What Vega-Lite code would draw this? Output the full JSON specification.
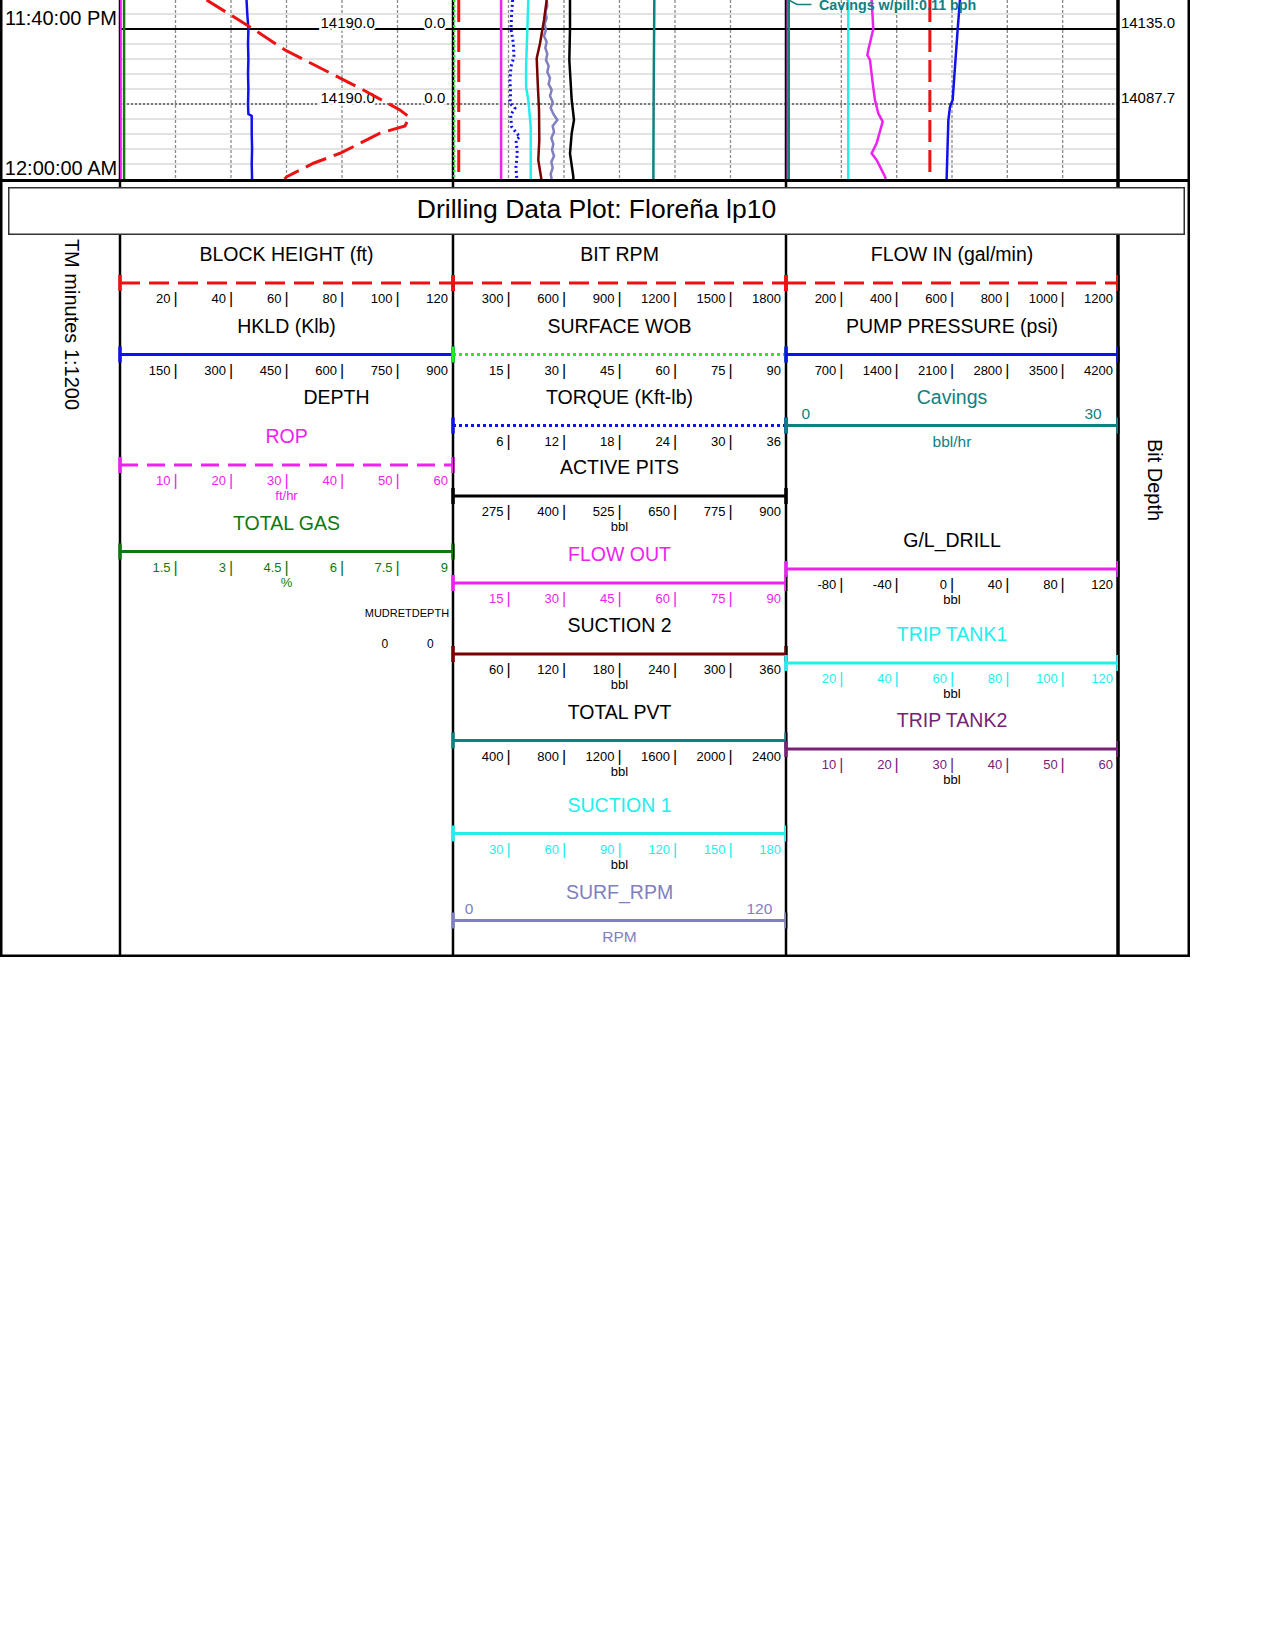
{
"$schema":"https://vega.github.io/schema/vega-lite/v6.json",
"padding":{"left":0,"top":0,"right":2,"bottom":2},
"background":"white",
"config":{"view":{"stroke":null},"font":"Liberation Sans","concat":{"spacing":0}},
"datasets":{
"timeLabels":[{"t":"2024-01-01T23:40:00","label":"11:40:00 PM"},{"t":"2024-01-02T00:00:00","label":"12:00:00 AM"}],
"divisions":[{"k":1},{"k":2},{"k":3},{"k":4},{"k":5}],
"gridTimes":[{"t":"2024-01-01T23:38:00"},{"t":"2024-01-01T23:40:00"},{"t":"2024-01-01T23:42:00"},{"t":"2024-01-01T23:44:00"},{"t":"2024-01-01T23:46:00"},{"t":"2024-01-01T23:48:00"},{"t":"2024-01-01T23:50:00"},{"t":"2024-01-01T23:52:00"},{"t":"2024-01-01T23:54:00"},{"t":"2024-01-01T23:56:00"},{"t":"2024-01-01T23:58:00"}],
"depthNotes":[{"t":"2024-01-01T23:40:00","depth":"14190.0","mudret":"0.0"},{"t":"2024-01-01T23:50:00","depth":"14190.0","mudret":"0.0"}],
"bitDepth":[{"t":"2024-01-01T23:40:00","bitDepth":"14135.0"},{"t":"2024-01-01T23:50:00","bitDepth":"14087.7"}],
"connector":[{"seq":1,"t":"2024-01-01T23:36:08","v":0.25},{"seq":2,"t":"2024-01-01T23:36:44","v":1.0},{"seq":3,"t":"2024-01-01T23:36:44","v":2.3}],
"annotation":[{"t":"2024-01-01T23:37:24","v":2.98,"label":"Cavings w/pill:0.11 bph"}],
"curves":[
{"series":"BLOCK HEIGHT","t":"2024-01-01T23:36:08","v":31.2},
{"series":"BLOCK HEIGHT","t":"2024-01-01T23:40:00","v":48.0},
{"series":"BLOCK HEIGHT","t":"2024-01-01T23:42:48","v":59.5},
{"series":"BLOCK HEIGHT","t":"2024-01-01T23:48:08","v":87.7},
{"series":"BLOCK HEIGHT","t":"2024-01-01T23:50:48","v":100.9},
{"series":"BLOCK HEIGHT","t":"2024-01-01T23:51:46","v":104.3},
{"series":"BLOCK HEIGHT","t":"2024-01-01T23:52:56","v":102.7},
{"series":"BLOCK HEIGHT","t":"2024-01-01T23:53:54","v":93.7},
{"series":"BLOCK HEIGHT","t":"2024-01-01T23:56:34","v":79.3},
{"series":"BLOCK HEIGHT","t":"2024-01-01T23:57:54","v":69.7},
{"series":"BLOCK HEIGHT","t":"2024-01-01T23:59:42","v":60.1},
{"series":"BLOCK HEIGHT","t":"2024-01-02T00:00:00","v":59.3},
{"series":"HKLD","t":"2024-01-01T23:36:08","v":342},
{"series":"HKLD","t":"2024-01-01T23:38:00","v":344},
{"series":"HKLD","t":"2024-01-01T23:40:00","v":347},
{"series":"HKLD","t":"2024-01-01T23:42:00","v":346},
{"series":"HKLD","t":"2024-01-01T23:44:00","v":347},
{"series":"HKLD","t":"2024-01-01T23:46:00","v":346},
{"series":"HKLD","t":"2024-01-01T23:48:00","v":347},
{"series":"HKLD","t":"2024-01-01T23:50:00","v":346},
{"series":"HKLD","t":"2024-01-01T23:51:20","v":347},
{"series":"HKLD","t":"2024-01-01T23:51:36","v":356},
{"series":"HKLD","t":"2024-01-01T23:54:00","v":356},
{"series":"HKLD","t":"2024-01-01T23:56:00","v":357},
{"series":"HKLD","t":"2024-01-01T23:58:00","v":356},
{"series":"HKLD","t":"2024-01-02T00:00:00","v":357},
{"series":"ROP","t":"2024-01-01T23:36:08","v":0},
{"series":"ROP","t":"2024-01-02T00:00:00","v":0},
{"series":"TOTAL GAS","t":"2024-01-01T23:36:08","v":0.11},
{"series":"TOTAL GAS","t":"2024-01-02T00:00:00","v":0.11},
{"series":"BIT RPM","t":"2024-01-01T23:36:08","v":31},
{"series":"BIT RPM","t":"2024-01-02T00:00:00","v":31},
{"series":"SURFACE WOB","t":"2024-01-01T23:36:08","v":0.3},
{"series":"SURFACE WOB","t":"2024-01-02T00:00:00","v":0.3},
{"series":"FLOW OUT","t":"2024-01-01T23:36:08","v":13.0},
{"series":"FLOW OUT","t":"2024-01-02T00:00:00","v":13.0},
{"series":"TORQUE","t":"2024-01-01T23:36:08","v":6.45},
{"series":"TORQUE","t":"2024-01-01T23:37:54","v":6.34},
{"series":"TORQUE","t":"2024-01-01T23:40:00","v":6.27},
{"series":"TORQUE","t":"2024-01-01T23:41:54","v":6.52},
{"series":"TORQUE","t":"2024-01-01T23:43:42","v":6.59},
{"series":"TORQUE","t":"2024-01-01T23:45:02","v":6.27},
{"series":"TORQUE","t":"2024-01-01T23:46:48","v":6.16},
{"series":"TORQUE","t":"2024-01-01T23:48:34","v":6.23},
{"series":"TORQUE","t":"2024-01-01T23:49:54","v":6.16},
{"series":"TORQUE","t":"2024-01-01T23:50:34","v":6.70},
{"series":"TORQUE","t":"2024-01-01T23:51:28","v":6.23},
{"series":"TORQUE","t":"2024-01-01T23:53:02","v":6.34},
{"series":"TORQUE","t":"2024-01-01T23:53:54","v":6.88},
{"series":"TORQUE","t":"2024-01-01T23:54:22","v":7.24},
{"series":"TORQUE","t":"2024-01-01T23:54:48","v":6.81},
{"series":"TORQUE","t":"2024-01-01T23:56:34","v":6.95},
{"series":"TORQUE","t":"2024-01-01T23:58:22","v":6.81},
{"series":"TORQUE","t":"2024-01-01T23:59:42","v":6.88},
{"series":"TORQUE","t":"2024-01-02T00:00:00","v":6.9},
{"series":"SUCTION 1","t":"2024-01-01T23:36:08","v":40.7},
{"series":"SUCTION 1","t":"2024-01-01T23:40:00","v":40.2},
{"series":"SUCTION 1","t":"2024-01-01T23:45:01","v":39.5},
{"series":"SUCTION 1","t":"2024-01-01T23:47:41","v":39.5},
{"series":"SUCTION 1","t":"2024-01-01T23:49:28","v":40.7},
{"series":"SUCTION 1","t":"2024-01-01T23:53:01","v":42.0},
{"series":"SUCTION 1","t":"2024-01-02T00:00:00","v":42.0},
{"series":"SUCTION 2","t":"2024-01-01T23:36:08","v":101.3},
{"series":"SUCTION 2","t":"2024-01-01T23:38:48","v":98.4},
{"series":"SUCTION 2","t":"2024-01-01T23:41:54","v":94.1},
{"series":"SUCTION 2","t":"2024-01-01T23:43:54","v":90.5},
{"series":"SUCTION 2","t":"2024-01-01T23:47:14","v":91.6},
{"series":"SUCTION 2","t":"2024-01-01T23:50:48","v":93.0},
{"series":"SUCTION 2","t":"2024-01-01T23:54:48","v":93.3},
{"series":"SUCTION 2","t":"2024-01-01T23:57:28","v":92.2},
{"series":"SUCTION 2","t":"2024-01-01T23:59:42","v":95.1},
{"series":"SUCTION 2","t":"2024-01-02T00:00:00","v":95.5},
{"series":"SURF_RPM","t":"2024-01-01T23:36:08","v":33.75},
{"series":"SURF_RPM","t":"2024-01-01T23:36:56","v":33.99},
{"series":"SURF_RPM","t":"2024-01-01T23:37:44","v":33.27},
{"series":"SURF_RPM","t":"2024-01-01T23:38:32","v":33.75},
{"series":"SURF_RPM","t":"2024-01-01T23:39:20","v":33.03},
{"series":"SURF_RPM","t":"2024-01-01T23:40:08","v":33.51},
{"series":"SURF_RPM","t":"2024-01-01T23:40:56","v":32.79},
{"series":"SURF_RPM","t":"2024-01-01T23:41:44","v":33.75},
{"series":"SURF_RPM","t":"2024-01-01T23:42:32","v":33.27},
{"series":"SURF_RPM","t":"2024-01-01T23:43:20","v":33.99},
{"series":"SURF_RPM","t":"2024-01-01T23:44:08","v":33.51},
{"series":"SURF_RPM","t":"2024-01-01T23:44:56","v":34.47},
{"series":"SURF_RPM","t":"2024-01-01T23:45:44","v":33.99},
{"series":"SURF_RPM","t":"2024-01-01T23:46:32","v":34.95},
{"series":"SURF_RPM","t":"2024-01-01T23:47:20","v":34.47},
{"series":"SURF_RPM","t":"2024-01-01T23:48:08","v":35.56},
{"series":"SURF_RPM","t":"2024-01-01T23:48:56","v":34.95},
{"series":"SURF_RPM","t":"2024-01-01T23:49:44","v":35.92},
{"series":"SURF_RPM","t":"2024-01-01T23:50:32","v":35.2},
{"series":"SURF_RPM","t":"2024-01-01T23:51:20","v":36.16},
{"series":"SURF_RPM","t":"2024-01-01T23:52:08","v":37.6},
{"series":"SURF_RPM","t":"2024-01-01T23:52:56","v":35.92},
{"series":"SURF_RPM","t":"2024-01-01T23:53:44","v":36.4},
{"series":"SURF_RPM","t":"2024-01-01T23:54:32","v":35.44},
{"series":"SURF_RPM","t":"2024-01-01T23:55:20","v":36.16},
{"series":"SURF_RPM","t":"2024-01-01T23:56:08","v":35.68},
{"series":"SURF_RPM","t":"2024-01-01T23:56:56","v":36.4},
{"series":"SURF_RPM","t":"2024-01-01T23:57:44","v":35.44},
{"series":"SURF_RPM","t":"2024-01-01T23:58:32","v":35.92},
{"series":"SURF_RPM","t":"2024-01-01T23:59:20","v":35.2},
{"series":"SURF_RPM","t":"2024-01-02T00:00:00","v":35.56},
{"series":"ACTIVE PITS","t":"2024-01-01T23:36:08","v":413.5},
{"series":"ACTIVE PITS","t":"2024-01-01T23:40:00","v":413.5},
{"series":"ACTIVE PITS","t":"2024-01-01T23:44:08","v":412.0},
{"series":"ACTIVE PITS","t":"2024-01-01T23:49:28","v":417.3},
{"series":"ACTIVE PITS","t":"2024-01-01T23:52:08","v":422.5},
{"series":"ACTIVE PITS","t":"2024-01-01T23:53:55","v":417.3},
{"series":"ACTIVE PITS","t":"2024-01-01T23:56:35","v":413.5},
{"series":"ACTIVE PITS","t":"2024-01-01T23:59:41","v":421.0},
{"series":"ACTIVE PITS","t":"2024-01-02T00:00:00","v":421.0},
{"series":"TOTAL PVT","t":"2024-01-01T23:36:08","v":1451},
{"series":"TOTAL PVT","t":"2024-01-01T23:49:28","v":1446},
{"series":"TOTAL PVT","t":"2024-01-02T00:00:00","v":1444},
{"series":"TRIP TANK2","t":"2024-01-01T23:36:08","v":0},
{"series":"TRIP TANK2","t":"2024-01-02T00:00:00","v":0},
{"series":"Cavings","t":"2024-01-01T23:36:08","v":0.25},
{"series":"Cavings","t":"2024-01-02T00:00:00","v":0.25},
{"series":"TRIP TANK1","t":"2024-01-01T23:36:08","v":22.5},
{"series":"TRIP TANK1","t":"2024-01-02T00:00:00","v":22.5},
{"series":"G/L_DRILL","t":"2024-01-01T23:36:08","v":-58.1},
{"series":"G/L_DRILL","t":"2024-01-01T23:40:00","v":-56.9},
{"series":"G/L_DRILL","t":"2024-01-01T23:42:48","v":-60.5},
{"series":"G/L_DRILL","t":"2024-01-01T23:43:28","v":-61.2},
{"series":"G/L_DRILL","t":"2024-01-01T23:44:08","v":-59.3},
{"series":"G/L_DRILL","t":"2024-01-01T23:47:15","v":-57.3},
{"series":"G/L_DRILL","t":"2024-01-01T23:49:28","v":-55.7},
{"series":"G/L_DRILL","t":"2024-01-01T23:51:15","v":-53.3},
{"series":"G/L_DRILL","t":"2024-01-01T23:52:21","v":-50.1},
{"series":"G/L_DRILL","t":"2024-01-01T23:53:55","v":-52.5},
{"series":"G/L_DRILL","t":"2024-01-01T23:55:15","v":-54.5},
{"series":"G/L_DRILL","t":"2024-01-01T23:56:35","v":-58.1},
{"series":"G/L_DRILL","t":"2024-01-01T23:57:28","v":-54.5},
{"series":"G/L_DRILL","t":"2024-01-01T23:59:41","v":-48.4},
{"series":"G/L_DRILL","t":"2024-01-02T00:00:00","v":-48.0},
{"series":"FLOW IN","t":"2024-01-01T23:36:08","v":520},
{"series":"FLOW IN","t":"2024-01-02T00:00:00","v":520},
{"series":"PUMP PRESSURE","t":"2024-01-01T23:36:08","v":2201},
{"series":"PUMP PRESSURE","t":"2024-01-01T23:40:00","v":2172},
{"series":"PUMP PRESSURE","t":"2024-01-01T23:45:01","v":2138},
{"series":"PUMP PRESSURE","t":"2024-01-01T23:49:28","v":2108},
{"series":"PUMP PRESSURE","t":"2024-01-01T23:50:21","v":2075},
{"series":"PUMP PRESSURE","t":"2024-01-01T23:52:08","v":2054},
{"series":"PUMP PRESSURE","t":"2024-01-01T23:59:41","v":2033},
{"series":"PUMP PRESSURE","t":"2024-01-02T00:00:00","v":2032}
],
"entries":[
{"track":1,"series":"BLOCK HEIGHT","title":"BLOCK HEIGHT (ft)","y":48},
{"track":1,"series":"HKLD","title":"HKLD (Klb)","y":119.5},
{"track":1,"series":"ROP","title":"ROP","y":230,"unit":"ft/hr"},
{"track":1,"series":"TOTAL GAS","title":"TOTAL GAS","y":316.5,"unit":"%"},
{"track":2,"series":"BIT RPM","title":"BIT RPM","y":48},
{"track":2,"series":"SURFACE WOB","title":"SURFACE WOB","y":119.5},
{"track":2,"series":"TORQUE","title":"TORQUE (Kft-lb)","y":190.5},
{"track":2,"series":"ACTIVE PITS","title":"ACTIVE PITS","y":261,"unit":"bbl"},
{"track":2,"series":"FLOW OUT","title":"FLOW OUT","y":348},
{"track":2,"series":"SUCTION 2","title":"SUCTION 2","y":419,"unit":"bbl"},
{"track":2,"series":"TOTAL PVT","title":"TOTAL PVT","y":505.5,"unit":"bbl"},
{"track":2,"series":"SUCTION 1","title":"SUCTION 1","y":598.5,"unit":"bbl"},
{"track":2,"series":"SURF_RPM","title":"SURF_RPM","y":685.5,"unit":"RPM"},
{"track":3,"series":"FLOW IN","title":"FLOW IN (gal/min)","y":48},
{"track":3,"series":"PUMP PRESSURE","title":"PUMP PRESSURE (psi)","y":119.5},
{"track":3,"series":"Cavings","title":"Cavings","y":190.5,"unit":"bbl/hr"},
{"track":3,"series":"G/L_DRILL","title":"G/L_DRILL","y":334,"unit":"bbl"},
{"track":3,"series":"TRIP TANK1","title":"TRIP TANK1","y":428,"unit":"bbl"},
{"track":3,"series":"TRIP TANK2","title":"TRIP TANK2","y":514,"unit":"bbl"}
],
"tickLabels":[
{"series":"BLOCK HEIGHT","k":[1,2,3,4,5,6],"label":["20","40","60","80","100","120"]},
{"series":"HKLD","k":[1,2,3,4,5,6],"label":["150","300","450","600","750","900"]},
{"series":"ROP","k":[1,2,3,4,5,6],"label":["10","20","30","40","50","60"]},
{"series":"TOTAL GAS","k":[1,2,3,4,5,6],"label":["1.5","3","4.5","6","7.5","9"]},
{"series":"BIT RPM","k":[1,2,3,4,5,6],"label":["300","600","900","1200","1500","1800"]},
{"series":"SURFACE WOB","k":[1,2,3,4,5,6],"label":["15","30","45","60","75","90"]},
{"series":"TORQUE","k":[1,2,3,4,5,6],"label":["6","12","18","24","30","36"]},
{"series":"ACTIVE PITS","k":[1,2,3,4,5,6],"label":["275","400","525","650","775","900"]},
{"series":"FLOW OUT","k":[1,2,3,4,5,6],"label":["15","30","45","60","75","90"]},
{"series":"SUCTION 2","k":[1,2,3,4,5,6],"label":["60","120","180","240","300","360"]},
{"series":"TOTAL PVT","k":[1,2,3,4,5,6],"label":["400","800","1200","1600","2000","2400"]},
{"series":"SUCTION 1","k":[1,2,3,4,5,6],"label":["30","60","90","120","150","180"]},
{"series":"FLOW IN","k":[1,2,3,4,5,6],"label":["200","400","600","800","1000","1200"]},
{"series":"PUMP PRESSURE","k":[1,2,3,4,5,6],"label":["700","1400","2100","2800","3500","4200"]},
{"series":"G/L_DRILL","k":[1,2,3,4,5,6],"label":["-80","-40","0","40","80","120"]},
{"series":"TRIP TANK1","k":[1,2,3,4,5,6],"label":["20","40","60","80","100","120"]},
{"series":"TRIP TANK2","k":[1,2,3,4,5,6],"label":["10","20","30","40","50","60"]}
],
"endLabels":[
{"series":"SURF_RPM","k":[0.29,5.52],"label":["0","120"]},
{"series":"Cavings","k":[0.36,5.55],"label":["0","30"]}
],
"notes":[{"note":"DEPTH","k":3.9,"y":169},{"note":"MUDRETDEPTH","k":5.17,"y":381.5},{"note":"0","k":4.77,"y":412.5},{"note":"0","k":5.59,"y":412.5}]
},
"spacing":0,
"vconcat":[
{"hconcat":[
{"width":120,"height":179,"layer":[
{"data":{"values":[{}]},"mark":{"type":"rule","color":"#000","strokeWidth":5,"clip":true},"encoding":{"x":{"datum":0,"type":"quantitative","scale":{"domain":[0,1]},"axis":null}}},
{"data":{"values":[{}]},"mark":{"type":"rule","color":"#000","strokeWidth":2.5,"clip":true},"encoding":{"x":{"datum":1,"type":"quantitative","scale":{"domain":[0,1]},"axis":null}}},
{"data":{"name":"timeLabels"},"mark":{"type":"text","fontSize":20,"baseline":"alphabetic","dy":-4,"dx":1,"clip":true},"encoding":{"y":{"field":"t","type":"temporal","scale":{"domain":[{"year":2024,"month":1,"date":1,"hours":23,"minutes":36,"seconds":8},{"year":2024,"month":1,"date":2,"hours":0,"minutes":0,"seconds":0}],"reverse":true},"axis":null},"text":{"field":"label"}}}
]},
{"width":333,"height":179,"resolve":{"scale":{"x":"independent"}},"layer":[
{"data":{"name":"divisions"},"mark":{"type":"rule","color":"#8a8a8a","strokeDash":[3,2],"strokeWidth":1.3,"clip":true},"encoding":{"x":{"field":"k","type":"quantitative","scale":{"domain":[0,6],"nice":false,"zero":false},"axis":null}}},
{"data":{"name":"gridTimes"},"mark":{"type":"rule","color":"#c6c6c6","strokeWidth":1,"clip":true},"encoding":{"y":{"field":"t","type":"temporal","scale":{"domain":[{"year":2024,"month":1,"date":1,"hours":23,"minutes":36,"seconds":8},{"year":2024,"month":1,"date":2,"hours":0,"minutes":0,"seconds":0}],"reverse":true},"axis":null}}},
{"data":{"values":[{}]},"mark":{"type":"rule","color":"#555555","strokeDash":[2,2],"strokeWidth":1.5,"clip":true},"encoding":{"y":{"datum":{"year":2024,"month":1,"date":1,"hours":23,"minutes":50},"type":"temporal","axis":null}}},
{"data":{"values":[{}]},"mark":{"type":"rule","color":"#000","strokeWidth":2,"clip":true},"encoding":{"y":{"datum":{"year":2024,"month":1,"date":1,"hours":23,"minutes":40},"type":"temporal","axis":null}}},
{"data":{"values":[{}]},"mark":{"type":"rule","color":"#000","strokeWidth":2.5,"clip":true},"encoding":{"x":{"datum":0,"type":"quantitative","scale":{"domain":[0,6]},"axis":null}}},
{"data":{"values":[{}]},"mark":{"type":"rule","color":"#000","strokeWidth":2.5,"clip":true},"encoding":{"x":{"datum":6,"type":"quantitative","scale":{"domain":[0,6]},"axis":null}}},
{"data":{"name":"depthNotes"},"mark":{"type":"text","fontSize":15,"align":"right","baseline":"alphabetic","dy":-1,"stroke":"#fff","strokeWidth":5,"fill":"#fff","clip":true},"encoding":{"x":{"datum":4.59,"type":"quantitative","scale":{"domain":[0,6]},"axis":null},"y":{"field":"t","type":"temporal","axis":null},"text":{"field":"depth"}}},
{"data":{"name":"depthNotes"},"mark":{"type":"text","fontSize":15,"align":"right","baseline":"alphabetic","dy":-1,"stroke":"#fff","strokeWidth":5,"fill":"#fff","clip":true},"encoding":{"x":{"datum":5.86,"type":"quantitative","scale":{"domain":[0,6]},"axis":null},"y":{"field":"t","type":"temporal","axis":null},"text":{"field":"mudret"}}},
{"data":{"name":"depthNotes"},"mark":{"type":"text","fontSize":15,"align":"right","baseline":"alphabetic","dy":-1,"fill":"#000","clip":true},"encoding":{"x":{"datum":4.59,"type":"quantitative","scale":{"domain":[0,6]},"axis":null},"y":{"field":"t","type":"temporal","axis":null},"text":{"field":"depth"}}},
{"data":{"name":"depthNotes"},"mark":{"type":"text","fontSize":15,"align":"right","baseline":"alphabetic","dy":-1,"fill":"#000","clip":true},"encoding":{"x":{"datum":5.86,"type":"quantitative","scale":{"domain":[0,6]},"axis":null},"y":{"field":"t","type":"temporal","axis":null},"text":{"field":"mudret"}}},
{"data":{"name":"curves"},"transform":[{"filter":{"field":"series","equal":"HKLD"}}],"mark":{"type":"line","color":"#1111ee","strokeWidth":2.5,"clip":true},"encoding":{"x":{"field":"v","type":"quantitative","scale":{"domain":[0,900],"nice":false,"zero":false},"axis":null},"y":{"field":"t","type":"temporal","axis":null},"order":{"field":"t","type":"temporal"}}},
{"data":{"name":"curves"},"transform":[{"filter":{"field":"series","equal":"TOTAL GAS"}}],"mark":{"type":"line","color":"#117711","strokeWidth":2.5,"clip":true},"encoding":{"x":{"field":"v","type":"quantitative","scale":{"domain":[0,9],"nice":false,"zero":false},"axis":null},"y":{"field":"t","type":"temporal","axis":null},"order":{"field":"t","type":"temporal"}}},
{"data":{"name":"curves"},"transform":[{"filter":{"field":"series","equal":"BLOCK HEIGHT"}}],"mark":{"type":"line","color":"#ee1111","strokeWidth":3,"strokeDash":[22,8],"clip":true},"encoding":{"x":{"field":"v","type":"quantitative","scale":{"domain":[0,120],"nice":false,"zero":false},"axis":null},"y":{"field":"t","type":"temporal","axis":null},"order":{"field":"t","type":"temporal"}}},
{"data":{"name":"curves"},"transform":[{"filter":{"field":"series","equal":"ROP"}}],"mark":{"type":"line","color":"#ee22ee","strokeWidth":3.5,"clip":true},"encoding":{"x":{"field":"v","type":"quantitative","scale":{"domain":[0,60],"nice":false,"zero":false},"axis":null},"y":{"field":"t","type":"temporal","axis":null},"order":{"field":"t","type":"temporal"}}}
]},
{"width":333,"height":179,"resolve":{"scale":{"x":"independent"}},"layer":[
{"data":{"name":"divisions"},"mark":{"type":"rule","color":"#8a8a8a","strokeDash":[3,2],"strokeWidth":1.3,"clip":true},"encoding":{"x":{"field":"k","type":"quantitative","scale":{"domain":[0,6],"nice":false,"zero":false},"axis":null}}},
{"data":{"name":"gridTimes"},"mark":{"type":"rule","color":"#c6c6c6","strokeWidth":1,"clip":true},"encoding":{"y":{"field":"t","type":"temporal","scale":{"domain":[{"year":2024,"month":1,"date":1,"hours":23,"minutes":36,"seconds":8},{"year":2024,"month":1,"date":2,"hours":0,"minutes":0,"seconds":0}],"reverse":true},"axis":null}}},
{"data":{"values":[{}]},"mark":{"type":"rule","color":"#555555","strokeDash":[2,2],"strokeWidth":1.5,"clip":true},"encoding":{"y":{"datum":{"year":2024,"month":1,"date":1,"hours":23,"minutes":50},"type":"temporal","axis":null}}},
{"data":{"values":[{}]},"mark":{"type":"rule","color":"#000","strokeWidth":2,"clip":true},"encoding":{"y":{"datum":{"year":2024,"month":1,"date":1,"hours":23,"minutes":40},"type":"temporal","axis":null}}},
{"data":{"values":[{}]},"mark":{"type":"rule","color":"#000","strokeWidth":2.5,"clip":true},"encoding":{"x":{"datum":0,"type":"quantitative","scale":{"domain":[0,6]},"axis":null}}},
{"data":{"values":[{}]},"mark":{"type":"rule","color":"#000","strokeWidth":2.5,"clip":true},"encoding":{"x":{"datum":6,"type":"quantitative","scale":{"domain":[0,6]},"axis":null}}},
{"data":{"name":"curves"},"transform":[{"filter":{"field":"series","equal":"TOTAL PVT"}}],"mark":{"type":"line","color":"#118080","strokeWidth":2.5,"clip":true},"encoding":{"x":{"field":"v","type":"quantitative","scale":{"domain":[0,2400],"nice":false,"zero":false},"axis":null},"y":{"field":"t","type":"temporal","axis":null},"order":{"field":"t","type":"temporal"}}},
{"data":{"name":"curves"},"transform":[{"filter":{"field":"series","equal":"ACTIVE PITS"}}],"mark":{"type":"line","color":"#000000","strokeWidth":2.5,"clip":true},"encoding":{"x":{"field":"v","type":"quantitative","scale":{"domain":[150,900],"nice":false,"zero":false},"axis":null},"y":{"field":"t","type":"temporal","axis":null},"order":{"field":"t","type":"temporal"}}},
{"data":{"name":"curves"},"transform":[{"filter":{"field":"series","equal":"SURF_RPM"}}],"mark":{"type":"line","color":"#8080c0","strokeWidth":2.5,"clip":true},"encoding":{"x":{"field":"v","type":"quantitative","scale":{"domain":[0,120],"nice":false,"zero":false},"axis":null},"y":{"field":"t","type":"temporal","axis":null},"order":{"field":"t","type":"temporal"}}},
{"data":{"name":"curves"},"transform":[{"filter":{"field":"series","equal":"SUCTION 2"}}],"mark":{"type":"line","color":"#770000","strokeWidth":2.5,"clip":true},"encoding":{"x":{"field":"v","type":"quantitative","scale":{"domain":[0,360],"nice":false,"zero":false},"axis":null},"y":{"field":"t","type":"temporal","axis":null},"order":{"field":"t","type":"temporal"}}},
{"data":{"name":"curves"},"transform":[{"filter":{"field":"series","equal":"SUCTION 1"}}],"mark":{"type":"line","color":"#22eeee","strokeWidth":2.5,"clip":true},"encoding":{"x":{"field":"v","type":"quantitative","scale":{"domain":[0,180],"nice":false,"zero":false},"axis":null},"y":{"field":"t","type":"temporal","axis":null},"order":{"field":"t","type":"temporal"}}},
{"data":{"name":"curves"},"transform":[{"filter":{"field":"series","equal":"TORQUE"}}],"mark":{"type":"line","color":"#1111ee","strokeWidth":3,"strokeDash":[2,3],"clip":true},"encoding":{"x":{"field":"v","type":"quantitative","scale":{"domain":[0,36],"nice":false,"zero":false},"axis":null},"y":{"field":"t","type":"temporal","axis":null},"order":{"field":"t","type":"temporal"}}},
{"data":{"name":"curves"},"transform":[{"filter":{"field":"series","equal":"FLOW OUT"}}],"mark":{"type":"line","color":"#ee22ee","strokeWidth":2.5,"clip":true},"encoding":{"x":{"field":"v","type":"quantitative","scale":{"domain":[0,90],"nice":false,"zero":false},"axis":null},"y":{"field":"t","type":"temporal","axis":null},"order":{"field":"t","type":"temporal"}}},
{"data":{"name":"curves"},"transform":[{"filter":{"field":"series","equal":"BIT RPM"}}],"mark":{"type":"line","color":"#ee1111","strokeWidth":3,"strokeDash":[22,8],"clip":true},"encoding":{"x":{"field":"v","type":"quantitative","scale":{"domain":[0,1800],"nice":false,"zero":false},"axis":null},"y":{"field":"t","type":"temporal","axis":null},"order":{"field":"t","type":"temporal"}}},
{"data":{"name":"curves"},"transform":[{"filter":{"field":"series","equal":"SURFACE WOB"}}],"mark":{"type":"line","color":"#22ee22","strokeWidth":2.5,"strokeDash":[2,3],"clip":true},"encoding":{"x":{"field":"v","type":"quantitative","scale":{"domain":[0,90],"nice":false,"zero":false},"axis":null},"y":{"field":"t","type":"temporal","axis":null},"order":{"field":"t","type":"temporal"}}}
]},
{"width":332,"height":179,"resolve":{"scale":{"x":"independent"}},"layer":[
{"data":{"name":"divisions"},"mark":{"type":"rule","color":"#8a8a8a","strokeDash":[3,2],"strokeWidth":1.3,"clip":true},"encoding":{"x":{"field":"k","type":"quantitative","scale":{"domain":[0,6],"nice":false,"zero":false},"axis":null}}},
{"data":{"name":"gridTimes"},"mark":{"type":"rule","color":"#c6c6c6","strokeWidth":1,"clip":true},"encoding":{"y":{"field":"t","type":"temporal","scale":{"domain":[{"year":2024,"month":1,"date":1,"hours":23,"minutes":36,"seconds":8},{"year":2024,"month":1,"date":2,"hours":0,"minutes":0,"seconds":0}],"reverse":true},"axis":null}}},
{"data":{"values":[{}]},"mark":{"type":"rule","color":"#555555","strokeDash":[2,2],"strokeWidth":1.5,"clip":true},"encoding":{"y":{"datum":{"year":2024,"month":1,"date":1,"hours":23,"minutes":50},"type":"temporal","axis":null}}},
{"data":{"values":[{}]},"mark":{"type":"rule","color":"#000","strokeWidth":2,"clip":true},"encoding":{"y":{"datum":{"year":2024,"month":1,"date":1,"hours":23,"minutes":40},"type":"temporal","axis":null}}},
{"data":{"values":[{}]},"mark":{"type":"rule","color":"#000","strokeWidth":2.5,"clip":true},"encoding":{"x":{"datum":0,"type":"quantitative","scale":{"domain":[0,6]},"axis":null}}},
{"data":{"values":[{}]},"mark":{"type":"rule","color":"#000","strokeWidth":3.5,"clip":true},"encoding":{"x":{"datum":6,"type":"quantitative","scale":{"domain":[0,6]},"axis":null}}},
{"data":{"name":"curves"},"transform":[{"filter":{"field":"series","equal":"TRIP TANK2"}}],"mark":{"type":"line","color":"#772277","strokeWidth":3,"clip":true},"encoding":{"x":{"field":"v","type":"quantitative","scale":{"domain":[0,60],"nice":false,"zero":false},"axis":null},"y":{"field":"t","type":"temporal","axis":null},"order":{"field":"t","type":"temporal"}}},
{"data":{"name":"curves"},"transform":[{"filter":{"field":"series","equal":"Cavings"}}],"mark":{"type":"line","color":"#118080","strokeWidth":2.5,"clip":true},"encoding":{"x":{"field":"v","type":"quantitative","scale":{"domain":[0,30],"nice":false,"zero":false},"axis":null},"y":{"field":"t","type":"temporal","axis":null},"order":{"field":"t","type":"temporal"}}},
{"data":{"name":"curves"},"transform":[{"filter":{"field":"series","equal":"TRIP TANK1"}}],"mark":{"type":"line","color":"#22eeee","strokeWidth":2.5,"clip":true},"encoding":{"x":{"field":"v","type":"quantitative","scale":{"domain":[0,120],"nice":false,"zero":false},"axis":null},"y":{"field":"t","type":"temporal","axis":null},"order":{"field":"t","type":"temporal"}}},
{"data":{"name":"curves"},"transform":[{"filter":{"field":"series","equal":"G/L_DRILL"}}],"mark":{"type":"line","color":"#ee22ee","strokeWidth":2.5,"clip":true},"encoding":{"x":{"field":"v","type":"quantitative","scale":{"domain":[-120,120],"nice":false,"zero":false},"axis":null},"y":{"field":"t","type":"temporal","axis":null},"order":{"field":"t","type":"temporal"}}},
{"data":{"name":"curves"},"transform":[{"filter":{"field":"series","equal":"FLOW IN"}}],"mark":{"type":"line","color":"#ee1111","strokeWidth":3,"strokeDash":[22,8],"clip":true},"encoding":{"x":{"field":"v","type":"quantitative","scale":{"domain":[0,1200],"nice":false,"zero":false},"axis":null},"y":{"field":"t","type":"temporal","axis":null},"order":{"field":"t","type":"temporal"}}},
{"data":{"name":"curves"},"transform":[{"filter":{"field":"series","equal":"PUMP PRESSURE"}}],"mark":{"type":"line","color":"#1111ee","strokeWidth":2.5,"clip":true},"encoding":{"x":{"field":"v","type":"quantitative","scale":{"domain":[0,4200],"nice":false,"zero":false},"axis":null},"y":{"field":"t","type":"temporal","axis":null},"order":{"field":"t","type":"temporal"}}},
{"data":{"name":"connector"},"mark":{"type":"line","color":"#118080","strokeWidth":1.5,"clip":true},"encoding":{"x":{"field":"v","type":"quantitative","scale":{"domain":[0,30],"nice":false,"zero":false},"axis":null},"y":{"field":"t","type":"temporal","axis":null},"order":{"field":"seq","type":"quantitative"}}},
{"data":{"name":"annotation"},"mark":{"type":"text","color":"#118080","fontSize":14.3,"fontWeight":"bold","align":"left","baseline":"alphabetic","clip":true},"encoding":{"x":{"field":"v","type":"quantitative","scale":{"domain":[0,30],"nice":false,"zero":false},"axis":null},"y":{"field":"t","type":"temporal","axis":null},"text":{"field":"label"}}}
]},
{"width":72,"height":179,"layer":[
{"data":{"values":[{}]},"mark":{"type":"rule","color":"#000","strokeWidth":3.5,"clip":true},"encoding":{"x":{"datum":0,"type":"quantitative","scale":{"domain":[0,1]},"axis":null}}},
{"data":{"values":[{}]},"mark":{"type":"rule","color":"#000","strokeWidth":5,"clip":true},"encoding":{"x":{"datum":1,"type":"quantitative","scale":{"domain":[0,1]},"axis":null}}},
{"data":{"name":"bitDepth"},"mark":{"type":"text","fontSize":15,"align":"left","baseline":"alphabetic","dy":-1,"clip":true},"encoding":{"x":{"datum":0.04,"type":"quantitative","scale":{"domain":[0,1]},"axis":null},"y":{"field":"t","type":"temporal","scale":{"domain":[{"year":2024,"month":1,"date":1,"hours":23,"minutes":36,"seconds":8},{"year":2024,"month":1,"date":2,"hours":0,"minutes":0,"seconds":0}],"reverse":true},"axis":null},"text":{"field":"bitDepth"}}}
]}
],"spacing":0,"bounds":"flush"},
{"hconcat":[
{"width":120,"height":8,"layer":[
{"data":{"values":[{}]},"mark":{"type":"rule","color":"#000","strokeWidth":5,"clip":true},"encoding":{"x":{"datum":0,"type":"quantitative","scale":{"domain":[0,1]},"axis":null}}},
{"data":{"values":[{}]},"mark":{"type":"rule","color":"#000","strokeWidth":2.5,"clip":true},"encoding":{"x":{"datum":1,"type":"quantitative","scale":{"domain":[0,1]},"axis":null}}},
{"data":{"values":[{}]},"mark":{"type":"rule","color":"#000","strokeWidth":6,"clip":true},"encoding":{"y":{"datum":1,"type":"quantitative","scale":{"domain":[0,1]},"axis":null}}}
]},
{"width":333,"height":8,"layer":[
{"data":{"values":[{}]},"mark":{"type":"rule","color":"#000","strokeWidth":2.5,"clip":true},"encoding":{"x":{"datum":0,"type":"quantitative","scale":{"domain":[0,1]},"axis":null}}},
{"data":{"values":[{}]},"mark":{"type":"rule","color":"#000","strokeWidth":2.5,"clip":true},"encoding":{"x":{"datum":1,"type":"quantitative","scale":{"domain":[0,1]},"axis":null}}},
{"data":{"values":[{}]},"mark":{"type":"rule","color":"#000","strokeWidth":6,"clip":true},"encoding":{"y":{"datum":1,"type":"quantitative","scale":{"domain":[0,1]},"axis":null}}}
]},
{"width":333,"height":8,"layer":[
{"data":{"values":[{}]},"mark":{"type":"rule","color":"#000","strokeWidth":2.5,"clip":true},"encoding":{"x":{"datum":0,"type":"quantitative","scale":{"domain":[0,1]},"axis":null}}},
{"data":{"values":[{}]},"mark":{"type":"rule","color":"#000","strokeWidth":2.5,"clip":true},"encoding":{"x":{"datum":1,"type":"quantitative","scale":{"domain":[0,1]},"axis":null}}},
{"data":{"values":[{}]},"mark":{"type":"rule","color":"#000","strokeWidth":6,"clip":true},"encoding":{"y":{"datum":1,"type":"quantitative","scale":{"domain":[0,1]},"axis":null}}}
]},
{"width":332,"height":8,"layer":[
{"data":{"values":[{}]},"mark":{"type":"rule","color":"#000","strokeWidth":2.5,"clip":true},"encoding":{"x":{"datum":0,"type":"quantitative","scale":{"domain":[0,1]},"axis":null}}},
{"data":{"values":[{}]},"mark":{"type":"rule","color":"#000","strokeWidth":3.5,"clip":true},"encoding":{"x":{"datum":1,"type":"quantitative","scale":{"domain":[0,1]},"axis":null}}},
{"data":{"values":[{}]},"mark":{"type":"rule","color":"#000","strokeWidth":6,"clip":true},"encoding":{"y":{"datum":1,"type":"quantitative","scale":{"domain":[0,1]},"axis":null}}}
]},
{"width":72,"height":8,"layer":[
{"data":{"values":[{}]},"mark":{"type":"rule","color":"#000","strokeWidth":3.5,"clip":true},"encoding":{"x":{"datum":0,"type":"quantitative","scale":{"domain":[0,1]},"axis":null}}},
{"data":{"values":[{}]},"mark":{"type":"rule","color":"#000","strokeWidth":5,"clip":true},"encoding":{"x":{"datum":1,"type":"quantitative","scale":{"domain":[0,1]},"axis":null}}},
{"data":{"values":[{}]},"mark":{"type":"rule","color":"#000","strokeWidth":6,"clip":true},"encoding":{"y":{"datum":1,"type":"quantitative","scale":{"domain":[0,1]},"axis":null}}}
]}
],"spacing":0,"bounds":"flush"},
{"hconcat":[
{"width":8,"height":48,"layer":[
{"data":{"values":[{}]},"mark":{"type":"rule","color":"#000","strokeWidth":5,"clip":true},"encoding":{"x":{"datum":0,"type":"quantitative","scale":{"domain":[0,1]},"axis":null}}}
]},
{"width":1177,"height":48,"layer":[
{"data":{"values":[{}]},"mark":{"type":"rule","color":"#333","strokeWidth":3,"clip":true},"encoding":{"x":{"datum":0,"type":"quantitative","scale":{"domain":[0,1]},"axis":null}}},
{"data":{"values":[{}]},"mark":{"type":"rule","color":"#333","strokeWidth":3,"clip":true},"encoding":{"x":{"datum":1,"type":"quantitative","scale":{"domain":[0,1]},"axis":null}}},
{"data":{"values":[{}]},"mark":{"type":"rule","color":"#333","strokeWidth":3,"clip":true},"encoding":{"y":{"datum":0,"type":"quantitative","scale":{"domain":[0,1]},"axis":null}}},
{"data":{"values":[{}]},"mark":{"type":"rule","color":"#333","strokeWidth":3,"clip":true},"encoding":{"y":{"datum":1,"type":"quantitative","scale":{"domain":[0,1]},"axis":null}}},
{"data":{"values":[{"title":"Drilling Data Plot: Floreña lp10"}]},"mark":{"type":"text","fontSize":26.5,"baseline":"alphabetic","dy":7},"encoding":{"text":{"field":"title"}}}
]},
{"width":5,"height":48,"layer":[
{"data":{"values":[{}]},"mark":{"type":"rule","color":"#000","strokeWidth":5,"clip":true},"encoding":{"x":{"datum":1,"type":"quantitative","scale":{"domain":[0,1]},"axis":null}}}
]}
],"spacing":0,"bounds":"flush"},
{"hconcat":[
{"width":120,"height":722,"layer":[
{"data":{"values":[{}]},"mark":{"type":"rule","color":"#000","strokeWidth":5,"clip":true},"encoding":{"x":{"datum":0,"type":"quantitative","scale":{"domain":[0,1]},"axis":null}}},
{"data":{"values":[{}]},"mark":{"type":"rule","color":"#000","strokeWidth":2.5,"clip":true},"encoding":{"x":{"datum":1,"type":"quantitative","scale":{"domain":[0,1]},"axis":null}}},
{"data":{"values":[{}]},"mark":{"type":"rule","color":"#000","strokeWidth":5,"clip":true},"encoding":{"y":{"datum":722,"type":"quantitative","scale":{"domain":[0,722],"reverse":true,"nice":false,"zero":false},"axis":null}}},
{"data":{"values":[{"label":"TM minutes 1:1200"}]},"mark":{"type":"text","angle":90,"fontSize":20,"align":"center","baseline":"middle"},"encoding":{"x":{"datum":0.59,"type":"quantitative","axis":null},"y":{"datum":89.5,"type":"quantitative","axis":null},"text":{"field":"label"}}}
]},
{"width":333,"height":722,"layer":[
{"data":{"values":[{}]},"mark":{"type":"rule","color":"#000","strokeWidth":2.5,"clip":true},"encoding":{"x":{"datum":0,"type":"quantitative","scale":{"domain":[0,6],"nice":false,"zero":false},"axis":null}}},
{"data":{"values":[{}]},"mark":{"type":"rule","color":"#000","strokeWidth":2.5,"clip":true},"encoding":{"x":{"datum":6,"type":"quantitative","axis":null}}},
{"data":{"values":[{}]},"mark":{"type":"rule","color":"#000","strokeWidth":5,"clip":true},"encoding":{"y":{"datum":722,"type":"quantitative","scale":{"domain":[0,722],"reverse":true,"nice":false,"zero":false},"axis":null}}},
{"data":{"name":"entries"},"transform":[{"filter":"datum.track == 1"}],"mark":{"type":"rule","strokeWidth":3},"encoding":{"x":{"datum":0,"type":"quantitative","axis":null},"x2":{"datum":6},"y":{"field":"y","type":"quantitative","axis":null},"stroke":{"field":"series","type":"nominal","scale":{"domain":["BLOCK HEIGHT","HKLD","ROP","TOTAL GAS","BIT RPM","SURFACE WOB","TORQUE","ACTIVE PITS","FLOW OUT","SUCTION 2","TOTAL PVT","SUCTION 1","SURF_RPM","FLOW IN","PUMP PRESSURE","Cavings","G/L_DRILL","TRIP TANK1","TRIP TANK2"],"range":["#ee1111","#1111ee","#ee22ee","#117711","#ee1111","#22ee22","#1111ee","#000000","#ee22ee","#770000","#118080","#22eeee","#8080c0","#ee1111","#1111ee","#118080","#ee22ee","#22eeee","#772277"]},"legend":null},"strokeDash":{"field":"series","type":"nominal","scale":{"domain":["BLOCK HEIGHT","HKLD","ROP","TOTAL GAS","BIT RPM","SURFACE WOB","TORQUE","ACTIVE PITS","FLOW OUT","SUCTION 2","TOTAL PVT","SUCTION 1","SURF_RPM","FLOW IN","PUMP PRESSURE","Cavings","G/L_DRILL","TRIP TANK1","TRIP TANK2"],"range":[[20,9],[1,0],[18,9],[1,0],[20,9],[3,3],[3,3],[1,0],[1,0],[1,0],[1,0],[1,0],[1,0],[20,9],[1,0],[1,0],[1,0],[1,0],[1,0]]},"legend":null}}},
{"data":{"name":"entries"},"transform":[{"filter":"datum.track == 1"}],"mark":{"type":"rule","strokeWidth":3.5,"yOffset":-8,"y2Offset":8},"encoding":{"x":{"datum":0,"type":"quantitative","axis":null},"y":{"field":"y","type":"quantitative","axis":null},"y2":{"field":"y"},"stroke":{"field":"series","type":"nominal","legend":null}}},
{"data":{"name":"entries"},"transform":[{"filter":"datum.track == 1"}],"mark":{"type":"rule","strokeWidth":3.5,"yOffset":-8,"y2Offset":8},"encoding":{"x":{"datum":6,"type":"quantitative","axis":null},"y":{"field":"y","type":"quantitative","axis":null},"y2":{"field":"y"},"stroke":{"field":"series","type":"nominal","legend":null}}},
{"data":{"name":"entries"},"transform":[{"filter":"datum.track == 1"}],"mark":{"type":"text","fontSize":19.5,"baseline":"alphabetic","dy":-22},"encoding":{"x":{"datum":3,"type":"quantitative","axis":null},"y":{"field":"y","type":"quantitative","axis":null},"text":{"field":"title"},"fill":{"field":"series","type":"nominal","scale":{"domain":["BLOCK HEIGHT","HKLD","ROP","TOTAL GAS","BIT RPM","SURFACE WOB","TORQUE","ACTIVE PITS","FLOW OUT","SUCTION 2","TOTAL PVT","SUCTION 1","SURF_RPM","FLOW IN","PUMP PRESSURE","Cavings","G/L_DRILL","TRIP TANK1","TRIP TANK2","ft/hr","%","bbl","bbl/hr","RPM"],"range":["#000000","#000000","#ee22ee","#117711","#000000","#000000","#000000","#000000","#ee22ee","#000000","#000000","#22eeee","#8080c0","#000000","#000000","#118080","#000000","#22eeee","#772277","#ee22ee","#117711","#000000","#118080","#8080c0"]},"legend":null}}},
{"data":{"name":"entries"},"transform":[{"filter":"datum.track == 1 && isValid(datum.unit) && datum.series != 'SURF_RPM' && datum.series != 'Cavings'"}],"mark":{"type":"text","fontSize":13,"baseline":"alphabetic","dy":35},"encoding":{"x":{"datum":3,"type":"quantitative","axis":null},"y":{"field":"y","type":"quantitative","axis":null},"text":{"field":"unit"},"fill":{"field":"unit","type":"nominal","legend":null}}},
{"data":{"name":"tickLabels"},"transform":[{"flatten":["k","label"]},{"lookup":"series","from":{"data":{"name":"entries"},"key":"series","fields":["y","track"]}},{"filter":"datum.track == 1"}],"mark":{"type":"text","fontSize":13,"align":"right","baseline":"alphabetic","dx":-5,"dy":20},"encoding":{"x":{"field":"k","type":"quantitative","axis":null},"y":{"field":"y","type":"quantitative","axis":null},"text":{"field":"label"},"fill":{"field":"series","type":"nominal","legend":null}}},
{"data":{"name":"tickLabels"},"transform":[{"flatten":["k","label"]},{"lookup":"series","from":{"data":{"name":"entries"},"key":"series","fields":["y","track"]}},{"filter":"datum.track == 1 && datum.k < 6"}],"mark":{"type":"text","text":"|","fontSize":16,"align":"center","baseline":"alphabetic","dy":21},"encoding":{"x":{"field":"k","type":"quantitative","axis":null},"y":{"field":"y","type":"quantitative","axis":null},"fill":{"field":"series","type":"nominal","legend":null}}},
{"data":{"name":"notes"},"transform":[{"filter":"datum.note == 'DEPTH'"}],"mark":{"type":"text","fontSize":19.5,"baseline":"alphabetic","fill":"#000"},"encoding":{"x":{"field":"k","type":"quantitative","axis":null},"y":{"field":"y","type":"quantitative","axis":null},"text":{"field":"note"}}},
{"data":{"name":"notes"},"transform":[{"filter":"datum.note == 'MUDRETDEPTH'"}],"mark":{"type":"text","fontSize":11,"font":"Liberation Sans","baseline":"alphabetic","fill":"#000"},"encoding":{"x":{"field":"k","type":"quantitative","axis":null},"y":{"field":"y","type":"quantitative","axis":null},"text":{"field":"note"}}},
{"data":{"name":"notes"},"transform":[{"filter":"datum.note == '0'"}],"mark":{"type":"text","fontSize":12,"baseline":"alphabetic","fill":"#000"},"encoding":{"x":{"field":"k","type":"quantitative","axis":null},"y":{"field":"y","type":"quantitative","axis":null},"text":{"field":"note"}}}
]},
{"width":333,"height":722,"layer":[
{"data":{"values":[{}]},"mark":{"type":"rule","color":"#000","strokeWidth":2.5,"clip":true},"encoding":{"x":{"datum":0,"type":"quantitative","scale":{"domain":[0,6],"nice":false,"zero":false},"axis":null}}},
{"data":{"values":[{}]},"mark":{"type":"rule","color":"#000","strokeWidth":2.5,"clip":true},"encoding":{"x":{"datum":6,"type":"quantitative","axis":null}}},
{"data":{"values":[{}]},"mark":{"type":"rule","color":"#000","strokeWidth":5,"clip":true},"encoding":{"y":{"datum":722,"type":"quantitative","scale":{"domain":[0,722],"reverse":true,"nice":false,"zero":false},"axis":null}}},
{"data":{"name":"entries"},"transform":[{"filter":"datum.track == 2"}],"mark":{"type":"rule","strokeWidth":3},"encoding":{"x":{"datum":0,"type":"quantitative","axis":null},"x2":{"datum":6},"y":{"field":"y","type":"quantitative","axis":null},"stroke":{"field":"series","type":"nominal","scale":{"domain":["BLOCK HEIGHT","HKLD","ROP","TOTAL GAS","BIT RPM","SURFACE WOB","TORQUE","ACTIVE PITS","FLOW OUT","SUCTION 2","TOTAL PVT","SUCTION 1","SURF_RPM","FLOW IN","PUMP PRESSURE","Cavings","G/L_DRILL","TRIP TANK1","TRIP TANK2"],"range":["#ee1111","#1111ee","#ee22ee","#117711","#ee1111","#22ee22","#1111ee","#000000","#ee22ee","#770000","#118080","#22eeee","#8080c0","#ee1111","#1111ee","#118080","#ee22ee","#22eeee","#772277"]},"legend":null},"strokeDash":{"field":"series","type":"nominal","scale":{"domain":["BLOCK HEIGHT","HKLD","ROP","TOTAL GAS","BIT RPM","SURFACE WOB","TORQUE","ACTIVE PITS","FLOW OUT","SUCTION 2","TOTAL PVT","SUCTION 1","SURF_RPM","FLOW IN","PUMP PRESSURE","Cavings","G/L_DRILL","TRIP TANK1","TRIP TANK2"],"range":[[20,9],[1,0],[18,9],[1,0],[20,9],[3,3],[3,3],[1,0],[1,0],[1,0],[1,0],[1,0],[1,0],[20,9],[1,0],[1,0],[1,0],[1,0],[1,0]]},"legend":null}}},
{"data":{"name":"entries"},"transform":[{"filter":"datum.track == 2"}],"mark":{"type":"rule","strokeWidth":3.5,"yOffset":-8,"y2Offset":8},"encoding":{"x":{"datum":0,"type":"quantitative","axis":null},"y":{"field":"y","type":"quantitative","axis":null},"y2":{"field":"y"},"stroke":{"field":"series","type":"nominal","legend":null}}},
{"data":{"name":"entries"},"transform":[{"filter":"datum.track == 2"}],"mark":{"type":"rule","strokeWidth":3.5,"yOffset":-8,"y2Offset":8},"encoding":{"x":{"datum":6,"type":"quantitative","axis":null},"y":{"field":"y","type":"quantitative","axis":null},"y2":{"field":"y"},"stroke":{"field":"series","type":"nominal","legend":null}}},
{"data":{"name":"entries"},"transform":[{"filter":"datum.track == 2"}],"mark":{"type":"text","fontSize":19.5,"baseline":"alphabetic","dy":-22},"encoding":{"x":{"datum":3,"type":"quantitative","axis":null},"y":{"field":"y","type":"quantitative","axis":null},"text":{"field":"title"},"fill":{"field":"series","type":"nominal","scale":{"domain":["BLOCK HEIGHT","HKLD","ROP","TOTAL GAS","BIT RPM","SURFACE WOB","TORQUE","ACTIVE PITS","FLOW OUT","SUCTION 2","TOTAL PVT","SUCTION 1","SURF_RPM","FLOW IN","PUMP PRESSURE","Cavings","G/L_DRILL","TRIP TANK1","TRIP TANK2","ft/hr","%","bbl","bbl/hr","RPM"],"range":["#000000","#000000","#ee22ee","#117711","#000000","#000000","#000000","#000000","#ee22ee","#000000","#000000","#22eeee","#8080c0","#000000","#000000","#118080","#000000","#22eeee","#772277","#ee22ee","#117711","#000000","#118080","#8080c0"]},"legend":null}}},
{"data":{"name":"entries"},"transform":[{"filter":"datum.track == 2 && isValid(datum.unit) && datum.series != 'SURF_RPM' && datum.series != 'Cavings'"}],"mark":{"type":"text","fontSize":13,"baseline":"alphabetic","dy":35},"encoding":{"x":{"datum":3,"type":"quantitative","axis":null},"y":{"field":"y","type":"quantitative","axis":null},"text":{"field":"unit"},"fill":{"field":"unit","type":"nominal","legend":null}}},
{"data":{"name":"entries"},"transform":[{"filter":"datum.track == 2 && (datum.series == 'SURF_RPM' || datum.series == 'Cavings')"}],"mark":{"type":"text","fontSize":15.5,"baseline":"alphabetic","dy":21},"encoding":{"x":{"datum":3,"type":"quantitative","axis":null},"y":{"field":"y","type":"quantitative","axis":null},"text":{"field":"unit"},"fill":{"field":"unit","type":"nominal","legend":null}}},
{"data":{"name":"tickLabels"},"transform":[{"flatten":["k","label"]},{"lookup":"series","from":{"data":{"name":"entries"},"key":"series","fields":["y","track"]}},{"filter":"datum.track == 2"}],"mark":{"type":"text","fontSize":13,"align":"right","baseline":"alphabetic","dx":-5,"dy":20},"encoding":{"x":{"field":"k","type":"quantitative","axis":null},"y":{"field":"y","type":"quantitative","axis":null},"text":{"field":"label"},"fill":{"field":"series","type":"nominal","legend":null}}},
{"data":{"name":"tickLabels"},"transform":[{"flatten":["k","label"]},{"lookup":"series","from":{"data":{"name":"entries"},"key":"series","fields":["y","track"]}},{"filter":"datum.track == 2 && datum.k < 6"}],"mark":{"type":"text","text":"|","fontSize":16,"align":"center","baseline":"alphabetic","dy":21},"encoding":{"x":{"field":"k","type":"quantitative","axis":null},"y":{"field":"y","type":"quantitative","axis":null},"fill":{"field":"series","type":"nominal","legend":null}}},
{"data":{"name":"endLabels"},"transform":[{"flatten":["k","label"]},{"lookup":"series","from":{"data":{"name":"entries"},"key":"series","fields":["y","track"]}},{"filter":"datum.track == 2"}],"mark":{"type":"text","fontSize":15.5,"align":"center","baseline":"alphabetic","dy":-6.5},"encoding":{"x":{"field":"k","type":"quantitative","axis":null},"y":{"field":"y","type":"quantitative","axis":null},"text":{"field":"label"},"fill":{"field":"series","type":"nominal","legend":null}}}
]},
{"width":332,"height":722,"layer":[
{"data":{"values":[{}]},"mark":{"type":"rule","color":"#000","strokeWidth":2.5,"clip":true},"encoding":{"x":{"datum":0,"type":"quantitative","scale":{"domain":[0,6],"nice":false,"zero":false},"axis":null}}},
{"data":{"values":[{}]},"mark":{"type":"rule","color":"#000","strokeWidth":3.5,"clip":true},"encoding":{"x":{"datum":6,"type":"quantitative","axis":null}}},
{"data":{"values":[{}]},"mark":{"type":"rule","color":"#000","strokeWidth":5,"clip":true},"encoding":{"y":{"datum":722,"type":"quantitative","scale":{"domain":[0,722],"reverse":true,"nice":false,"zero":false},"axis":null}}},
{"data":{"name":"entries"},"transform":[{"filter":"datum.track == 3"}],"mark":{"type":"rule","strokeWidth":3},"encoding":{"x":{"datum":0,"type":"quantitative","axis":null},"x2":{"datum":6},"y":{"field":"y","type":"quantitative","axis":null},"stroke":{"field":"series","type":"nominal","scale":{"domain":["BLOCK HEIGHT","HKLD","ROP","TOTAL GAS","BIT RPM","SURFACE WOB","TORQUE","ACTIVE PITS","FLOW OUT","SUCTION 2","TOTAL PVT","SUCTION 1","SURF_RPM","FLOW IN","PUMP PRESSURE","Cavings","G/L_DRILL","TRIP TANK1","TRIP TANK2"],"range":["#ee1111","#1111ee","#ee22ee","#117711","#ee1111","#22ee22","#1111ee","#000000","#ee22ee","#770000","#118080","#22eeee","#8080c0","#ee1111","#1111ee","#118080","#ee22ee","#22eeee","#772277"]},"legend":null},"strokeDash":{"field":"series","type":"nominal","scale":{"domain":["BLOCK HEIGHT","HKLD","ROP","TOTAL GAS","BIT RPM","SURFACE WOB","TORQUE","ACTIVE PITS","FLOW OUT","SUCTION 2","TOTAL PVT","SUCTION 1","SURF_RPM","FLOW IN","PUMP PRESSURE","Cavings","G/L_DRILL","TRIP TANK1","TRIP TANK2"],"range":[[20,9],[1,0],[18,9],[1,0],[20,9],[3,3],[3,3],[1,0],[1,0],[1,0],[1,0],[1,0],[1,0],[20,9],[1,0],[1,0],[1,0],[1,0],[1,0]]},"legend":null}}},
{"data":{"name":"entries"},"transform":[{"filter":"datum.track == 3"}],"mark":{"type":"rule","strokeWidth":3.5,"yOffset":-8,"y2Offset":8},"encoding":{"x":{"datum":0,"type":"quantitative","axis":null},"y":{"field":"y","type":"quantitative","axis":null},"y2":{"field":"y"},"stroke":{"field":"series","type":"nominal","legend":null}}},
{"data":{"name":"entries"},"transform":[{"filter":"datum.track == 3"}],"mark":{"type":"rule","strokeWidth":3.5,"yOffset":-8,"y2Offset":8},"encoding":{"x":{"datum":6,"type":"quantitative","axis":null},"y":{"field":"y","type":"quantitative","axis":null},"y2":{"field":"y"},"stroke":{"field":"series","type":"nominal","legend":null}}},
{"data":{"name":"entries"},"transform":[{"filter":"datum.track == 3"}],"mark":{"type":"text","fontSize":19.5,"baseline":"alphabetic","dy":-22},"encoding":{"x":{"datum":3,"type":"quantitative","axis":null},"y":{"field":"y","type":"quantitative","axis":null},"text":{"field":"title"},"fill":{"field":"series","type":"nominal","scale":{"domain":["BLOCK HEIGHT","HKLD","ROP","TOTAL GAS","BIT RPM","SURFACE WOB","TORQUE","ACTIVE PITS","FLOW OUT","SUCTION 2","TOTAL PVT","SUCTION 1","SURF_RPM","FLOW IN","PUMP PRESSURE","Cavings","G/L_DRILL","TRIP TANK1","TRIP TANK2","ft/hr","%","bbl","bbl/hr","RPM"],"range":["#000000","#000000","#ee22ee","#117711","#000000","#000000","#000000","#000000","#ee22ee","#000000","#000000","#22eeee","#8080c0","#000000","#000000","#118080","#000000","#22eeee","#772277","#ee22ee","#117711","#000000","#118080","#8080c0"]},"legend":null}}},
{"data":{"name":"entries"},"transform":[{"filter":"datum.track == 3 && isValid(datum.unit) && datum.series != 'SURF_RPM' && datum.series != 'Cavings'"}],"mark":{"type":"text","fontSize":13,"baseline":"alphabetic","dy":35},"encoding":{"x":{"datum":3,"type":"quantitative","axis":null},"y":{"field":"y","type":"quantitative","axis":null},"text":{"field":"unit"},"fill":{"field":"unit","type":"nominal","legend":null}}},
{"data":{"name":"entries"},"transform":[{"filter":"datum.track == 3 && (datum.series == 'SURF_RPM' || datum.series == 'Cavings')"}],"mark":{"type":"text","fontSize":15.5,"baseline":"alphabetic","dy":21},"encoding":{"x":{"datum":3,"type":"quantitative","axis":null},"y":{"field":"y","type":"quantitative","axis":null},"text":{"field":"unit"},"fill":{"field":"unit","type":"nominal","legend":null}}},
{"data":{"name":"tickLabels"},"transform":[{"flatten":["k","label"]},{"lookup":"series","from":{"data":{"name":"entries"},"key":"series","fields":["y","track"]}},{"filter":"datum.track == 3"}],"mark":{"type":"text","fontSize":13,"align":"right","baseline":"alphabetic","dx":-5,"dy":20},"encoding":{"x":{"field":"k","type":"quantitative","axis":null},"y":{"field":"y","type":"quantitative","axis":null},"text":{"field":"label"},"fill":{"field":"series","type":"nominal","legend":null}}},
{"data":{"name":"tickLabels"},"transform":[{"flatten":["k","label"]},{"lookup":"series","from":{"data":{"name":"entries"},"key":"series","fields":["y","track"]}},{"filter":"datum.track == 3 && datum.k < 6"}],"mark":{"type":"text","text":"|","fontSize":16,"align":"center","baseline":"alphabetic","dy":21},"encoding":{"x":{"field":"k","type":"quantitative","axis":null},"y":{"field":"y","type":"quantitative","axis":null},"fill":{"field":"series","type":"nominal","legend":null}}},
{"data":{"name":"endLabels"},"transform":[{"flatten":["k","label"]},{"lookup":"series","from":{"data":{"name":"entries"},"key":"series","fields":["y","track"]}},{"filter":"datum.track == 3"}],"mark":{"type":"text","fontSize":15.5,"align":"center","baseline":"alphabetic","dy":-6.5},"encoding":{"x":{"field":"k","type":"quantitative","axis":null},"y":{"field":"y","type":"quantitative","axis":null},"text":{"field":"label"},"fill":{"field":"series","type":"nominal","legend":null}}}
]},
{"width":72,"height":722,"layer":[
{"data":{"values":[{}]},"mark":{"type":"rule","color":"#000","strokeWidth":3.5,"clip":true},"encoding":{"x":{"datum":0,"type":"quantitative","scale":{"domain":[0,1]},"axis":null}}},
{"data":{"values":[{}]},"mark":{"type":"rule","color":"#000","strokeWidth":5,"clip":true},"encoding":{"x":{"datum":1,"type":"quantitative","axis":null}}},
{"data":{"values":[{}]},"mark":{"type":"rule","color":"#000","strokeWidth":5,"clip":true},"encoding":{"y":{"datum":722,"type":"quantitative","scale":{"domain":[0,722],"reverse":true,"nice":false,"zero":false},"axis":null}}},
{"data":{"values":[{"label":"Bit Depth"}]},"mark":{"type":"text","angle":90,"fontSize":20,"align":"center","baseline":"middle"},"encoding":{"x":{"datum":0.5,"type":"quantitative","axis":null},"y":{"datum":245,"type":"quantitative","axis":null},"text":{"field":"label"}}}
]}
],"spacing":0,"bounds":"flush"}
]
}
